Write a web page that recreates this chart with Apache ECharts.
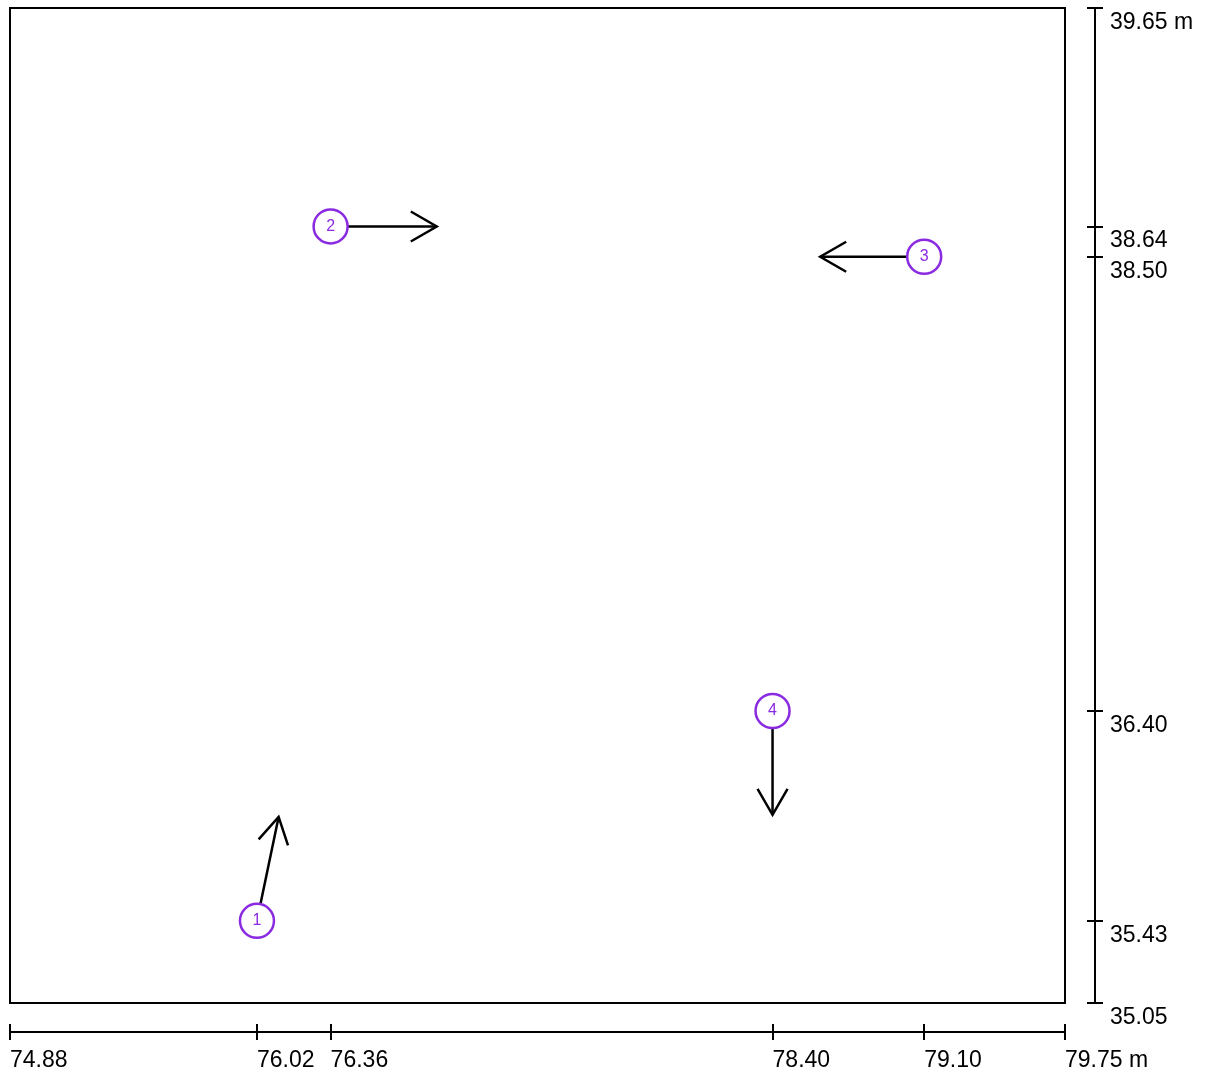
<!DOCTYPE html>
<html><head><meta charset="utf-8">
<script src="https://cdn.jsdelivr.net/npm/echarts@6/dist/echarts.min.js"></script>
<style>html,body{margin:0;padding:0;background:#fff}#c{width:1206px;height:1074px}</style>
</head><body><div id="c"></div>
<script>
const ids = ['1', '2', '3', '4'];
const startX = [76.02, 76.36, 79.10, 78.40];
const startY = [35.43, 38.64, 38.50, 36.40];
const endX = [76.12, 76.85, 78.62, 78.40];
const endY = [35.91, 38.64, 38.50, 35.92];
const xTicks = [74.88, 76.02, 76.36, 78.40, 79.10, 79.75];
const yTicks = [35.05, 35.43, 36.40, 38.50, 38.64, 39.65];
const xMin = 74.88, xMax = 79.75, yMin = 35.05, yMax = 39.65;

const FONT = '"Liberation Sans", Arial, sans-serif';
const PURPLE = '#8a2be2';
const data = ids.map((id, i) => [startX[i], startY[i], endX[i], endY[i], id]);

function fmt(max) { return v => (Math.abs(v - max) < 1e-9 ? v.toFixed(2) + ' m' : v.toFixed(2)); }

function xAxisDef(inside, labels) {
  return {
    type: 'value', gridIndex: 0, position: 'bottom', offset: 29, min: xMin, max: xMax,
    splitLine: { show: false },
    axisLine: { show: true, lineStyle: { color: '#000', width: 2 } },
    axisTick: { show: true, inside: inside, length: 8, customValues: xTicks, lineStyle: { color: '#000', width: 2 } },
    axisLabel: labels ? { show: true, customValues: xTicks, formatter: fmt(xMax), align: 'left', margin: 17,
      color: '#000', fontSize: 23, fontFamily: FONT } : { show: false }
  };
}
function yAxisDef(inside, labels) {
  return {
    type: 'value', gridIndex: 0, position: 'right', offset: 30, min: yMin, max: yMax,
    splitLine: { show: false },
    axisLine: { show: true, lineStyle: { color: '#000', width: 2 } },
    axisTick: { show: true, inside: inside, length: 8, customValues: yTicks, lineStyle: { color: '#000', width: 2 } },
    axisLabel: labels ? { show: true, customValues: yTicks, formatter: fmt(yMax), align: 'left', verticalAlign: 'top',
      padding: [3, 0, 0, 0], margin: 15, color: '#000', fontSize: 23, fontFamily: FONT } : { show: false }
  };
}

const chart = echarts.init(document.getElementById('c'), null, { renderer: 'canvas' });
chart.setOption({
  backgroundColor: '#fff',
  animation: false,
  grid: { left: 10, right: 141, top: 8, bottom: 71, show: true, borderColor: '#000', borderWidth: 2, backgroundColor: '#fff' },
  xAxis: [xAxisDef(true, true), xAxisDef(false, false)],
  yAxis: [yAxisDef(true, true), yAxisDef(false, false)],
  series: [{
    type: 'custom',
    coordinateSystem: 'cartesian2d',
    xAxisIndex: 0, yAxisIndex: 0,
    clip: false,
    data: data,
    encode: { x: [0, 2], y: [1, 3] },
    renderItem: function (params, api) {
      const p0 = api.coord([api.value(0), api.value(1)]);
      const p1 = api.coord([api.value(2), api.value(3)]);
      const ang = Math.atan2(p1[1] - p0[1], p1[0] - p0[0]);
      const L = 30, a = Math.PI / 6;
      const h1 = [p1[0] - L * Math.cos(ang - a), p1[1] - L * Math.sin(ang - a)];
      const h2 = [p1[0] - L * Math.cos(ang + a), p1[1] - L * Math.sin(ang + a)];
      const lbl = ids[params.dataIndex];
      return {
        type: 'group',
        children: [
          { type: 'line', shape: { x1: p0[0], y1: p0[1], x2: p1[0], y2: p1[1] }, style: { stroke: '#000', lineWidth: 2.5 } },
          { type: 'polyline', shape: { points: [h1, p1, h2] }, style: { stroke: '#000', lineWidth: 2.5, fill: null } },
          { type: 'circle', shape: { cx: p0[0], cy: p0[1], r: 17 }, style: { fill: '#fff', stroke: PURPLE, lineWidth: 2.5 } },
          { type: 'text', x: p0[0], y: p0[1], style: { text: lbl, fill: PURPLE, fontSize: 16, fontFamily: FONT, align: 'center', verticalAlign: 'middle' } }
        ]
      };
    }
  }]
});
</script></body></html>
